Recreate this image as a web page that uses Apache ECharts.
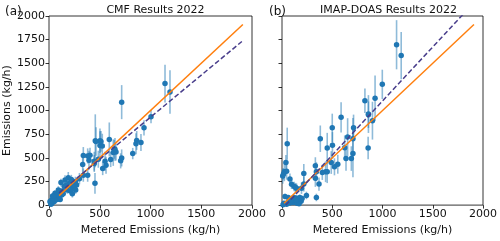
<!DOCTYPE html>
<html><head><meta charset="utf-8">
<script src="https://cdn.jsdelivr.net/npm/echarts@6/dist/echarts.min.js"></script>
<style>html,body{margin:0;padding:0;background:#fff}#c{width:500px;height:241px}</style>
</head><body><div id="c"></div>
<script>
// Panel (a): CMF results
const aX = [1143,1192,716,1005,936,864,857,906,825,706,716,650,633,643,660,594,502,502,456,453,562,529,525,512,463,446,394,404,381,338,332,338,381,486,552,608,446,
  272,263,249,223,190,174,158,118,92,108,59,76,42,27,10,52,125,200,150,220,240,130,90,70,60,30,20,40,80,100,140,180,210,260,300,230,165,50,35,15,110];
const aY = [1285,1197,1089,935,817,684,649,663,545,468,499,590,555,590,562,694,680,631,680,230,422,387,625,673,673,464,474,527,520,524,429,317,317,485,464,482,440,
  213,160,178,196,290,213,265,238,160,143,126,91,73,56,39,39,108,230,200,270,210,150,110,100,80,20,10,50,60,90,120,160,150,250,280,120,180,100,95,25,60];
const aErr = [200,230,180,70,80,100,110,90,60,80,90,120,140,100,90,180,130,150,280,110,90,70,130,110,150,100,100,80,80,90,80,70,70,90,100,80,90,
  50,40,60,50,60,50,50,40,40,40,30,30,20,20,15,20,30,50,40,50,50,30,30,30,20,15,10,20,20,25,30,40,40,50,60,40,40,30,30,10,20];
// Panel (b): IMAP-DOAS results
const bX = [1140,1186,998,825,926,860,588,500,712,860,900,381,450,502,624,706,653,637,690,706,857,490,522,555,434,401,450,332,342,332,368,217,217,194,52,39,23,7,46,15,79,95,121,135,145,
  30,62,111,145,177,161,128,79,111,79,46,100,190,200,90,60,20,10,150,170,120,140,243,342];
const bY = [1696,1581,1277,1103,1131,956,929,817,817,963,893,702,604,632,607,702,719,492,492,545,604,450,405,432,353,346,353,416,353,283,223,335,223,178,649,450,353,307,359,330,275,220,196,185,178,
  91,81,73,73,81,45,31,39,28,21,10,55,40,70,45,30,20,5,20,15,80,55,102,81];
const bErr = [260,250,155,130,240,140,160,150,140,200,200,140,160,140,130,220,200,130,130,250,120,120,90,100,110,80,120,90,100,90,70,100,80,60,170,80,100,80,90,60,60,50,50,50,50,
  30,25,25,30,30,20,20,20,15,15,10,20,20,30,20,15,10,5,15,15,30,20,40,40];
// Reference lines (solid orange and dashed fit), endpoints in data units
const aSolid = [[100,100],[1910,1910]];
const aDashed = [[100,130],[1900,1730]];
const bSolid = [[20,20],[1910,1910]];
const bDashed = [[37,0],[1900,2130]];
const ticks = [0,500,1000,1500,2000];
const titles = ['CMF Results 2022','IMAP-DOAS Results 2022'];
const panelTags = ['(a)','(b)'];

const zip = (xs, ys, es) => xs.map((x,i)=> es ? [x, ys[i], es[i]] : [x, ys[i]]);
const FONT = 'DejaVu Sans';
const txt = {fontFamily: FONT, fontSize: 11, color: '#111'};
const fmt = v => String(v);

function errBar(params, api){
  const x = api.value(0), y = api.value(1), e = api.value(2);
  const p1 = api.coord([x, Math.max(0, y - e)]);
  const p2 = api.coord([x, y + e]);
  return {type:'line', shape:{x1:p1[0], y1:p1[1], x2:p2[0], y2:p2[1]},
    style:{stroke:'rgba(31,119,180,0.5)', lineWidth:1.6}};
}
function xAx(i){
  return {type:'value', gridIndex:i, min:ticks[0], max:ticks[ticks.length-1], interval:500,
    name:'Metered Emissions (kg/h)', nameLocation:'middle', nameGap:18, nameTextStyle:txt,
    axisLine:{show:false}, axisTick:{show:true, length:3.5, lineStyle:{color:'#000', width:0.8}},
    axisLabel:Object.assign({margin:4, formatter:fmt}, txt), splitLine:{show:false}};
}
function yAx(i, labels){
  return {type:'value', gridIndex:i, min:0, max:2000, interval:250,
    name: labels ? 'Emissions (kg/h)' : '', nameLocation:'middle', nameGap:35, nameTextStyle:txt,
    axisLine:{show:false}, axisTick:{show:true, length:3.5, lineStyle:{color:'#000', width:0.8}},
    axisLabel:Object.assign({show:labels, margin:4, formatter:fmt}, txt), splitLine:{show:false}};
}
function panel(i, xs, ys, es, solid, dashed){
  return [
    {type:'custom', xAxisIndex:i, yAxisIndex:i, renderItem:errBar, data:zip(xs,ys,es), clip:true, z:1, silent:true},
    {type:'scatter', xAxisIndex:i, yAxisIndex:i, data:zip(xs,ys), symbolSize:5.5, itemStyle:{color:'#1f77b4', opacity:1}, z:2},
    {type:'line', xAxisIndex:i, yAxisIndex:i, data:solid, showSymbol:false, clip:true, z:3,
      lineStyle:{color:'#ff7f0e', width:1.5}},
    {type:'line', xAxisIndex:i, yAxisIndex:i, data:dashed, showSymbol:false, clip:true, z:3,
      lineStyle:{color:'#483d8b', width:1.5, type:[5,2.5]}}
  ];
}

const chart = echarts.init(document.getElementById('c'), null, {renderer:'canvas'});
chart.setOption({
  animation:false,
  backgroundColor:'#fff',
  title:[
    {text:titles[0], left:150.5, top:0, textAlign:'center', textStyle:Object.assign({}, txt, {fontWeight:'normal'})},
    {text:titles[1], left:383.5, top:0, textAlign:'center', textStyle:Object.assign({}, txt, {fontWeight:'normal'})},
    {text:panelTags[0], left:0, top:1, textStyle:Object.assign({}, txt, {fontWeight:'normal', fontSize:12})},
    {text:panelTags[1], left:264, top:1, textStyle:Object.assign({}, txt, {fontWeight:'normal', fontSize:12})}
  ],
  grid:[
    {left:49, top:16, width:203, height:191, show:true, borderColor:'#000', borderWidth:0.8, backgroundColor:'transparent'},
    {left:282, top:16, width:203, height:191, show:true, borderColor:'#000', borderWidth:0.8, backgroundColor:'transparent'}
  ],
  xAxis:[xAx(0), xAx(1)],
  yAxis:[yAx(0,true), yAx(1,false)],
  series:[].concat(panel(0,aX,aY,aErr,aSolid,aDashed), panel(1,bX,bY,bErr,bSolid,bDashed))
});
</script></body></html>
